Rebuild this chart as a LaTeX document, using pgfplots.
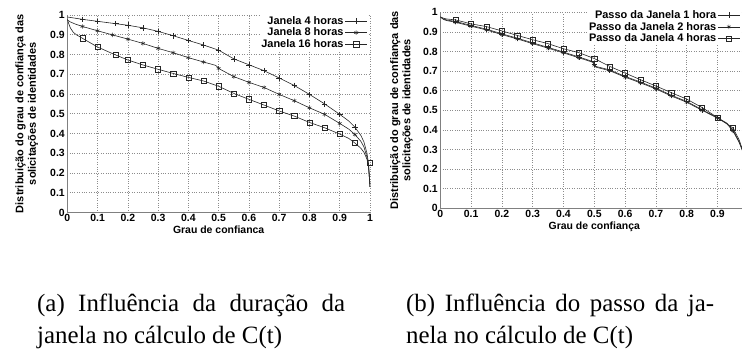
\documentclass[border=0pt]{standalone}
\usepackage{pgfplots}
\pgfplotsset{compat=1.18}
\usepackage{fontspec}
\setmainfont{Liberation Serif}
\setsansfont{Liberation Sans}
\definecolor{gridc}{gray}{0.55}
\definecolor{axc}{gray}{0.5}
\definecolor{linec}{gray}{0.15}
\newcommand{\tickfont}{\fontsize{10.5}{12}\sffamily\bfseries}
\newcommand{\labfont}{\fontsize{11}{12.5}\sffamily\bfseries}
\pgfplotsset{
  myaxis/.style={
    scale only axis,
    anchor=south west,
    ymin=0, ymax=1, xmin=0,
    ytick={0,0.1,...,1.01},
    axis lines=left,
    axis line style={-, draw=axc, line width=1.2bp},
    major tick length=0pt,
    grid=major,
    grid style={dotted, draw=gridc, line width=0.6bp},
    /pgf/number format/assume math mode=true,
    tick label style={font=\tickfont},
    xticklabel style={yshift=1.5bp},
    yticklabel style={xshift=1bp},
    xlabel style={font=\tickfont, yshift=3bp},
    ylabel style={font=\labfont, align=center},
    legend style={font=\labfont, draw=none, fill=white, inner sep=0.5bp,
      nodes={inner sep=1.3bp}, row sep=-0.5bp},
    legend cell align=right,
    legend plot pos=right,
    legend image code/.code={\draw[mark repeat=2,mark phase=2,##1] plot coordinates {(0bp,0bp) (11bp,0bp) (22bp,0bp)};},
    every axis plot/.append style={draw=linec, line width=0.6bp, mark options={solid, line width=0.5bp}},
  },
}
\begin{document}
\begin{tikzpicture}
\useasboundingbox (0,0) rectangle (742bp,349bp);
\clip (0,0) rectangle (742bp,349bp);
% ---------------- left chart
\begin{axis}[myaxis,
  at={(67.3bp,136.5bp)}, width=302.7bp, height=197.5bp, xmax=1,
  xtick={0,0.1,...,1.01},
  xlabel={Grau de confianca},
  ylabel={Distribuição do grau de confiança das\\solicitações de identidades},
  ylabel style={at={(axis description cs:-0.085,0.5)}, anchor=south},
  legend style={at={(axis description cs:0.994,1.003)}, anchor=north east},
]
\addlegendimage{linec, line width=0.6bp, mark=+, mark size=2.8bp}
\addlegendentry{Janela 4 horas}
\addlegendimage{linec, line width=0.6bp, mark=asterisk, mark size=2.2bp}
\addlegendentry{Janela 8 horas}
\addlegendimage{linec, line width=0.6bp, mark=square, mark size=2.6bp}
\addlegendentry{Janela 16 horas}
\addplot[forget plot, no marks] coordinates {
(0,0.99) (0.05,0.978) (0.1,0.968) (0.15,0.958) (0.2,0.948) (0.25,0.935) (0.3,0.917)
(0.35,0.895) (0.4,0.871) (0.45,0.848) (0.5,0.822) (0.55,0.778) (0.6,0.748) (0.65,0.718)
(0.7,0.681) (0.75,0.643) (0.8,0.598) (0.85,0.55) (0.9,0.497) (0.93,0.463) (0.95,0.432)
(0.97,0.39) (0.98,0.357) (0.99,0.30) (0.995,0.25) (1,0.13)};
\addplot[forget plot, only marks, mark=+, mark size=2.8bp] coordinates {
(0.05,0.978) (0.1,0.968) (0.16,0.956) (0.2,0.948) (0.25,0.935) (0.3,0.917)
(0.35,0.895) (0.4,0.871) (0.45,0.848) (0.5,0.822) (0.55,0.778) (0.6,0.748) (0.65,0.718)
(0.7,0.681) (0.75,0.643) (0.8,0.598) (0.85,0.55) (0.9,0.497) (0.95,0.432)};
\addplot[forget plot, no marks] coordinates {
(0,0.975) (0.01,0.965) (0.025,0.955) (0.05,0.942) (0.1,0.92) (0.15,0.899) (0.2,0.878) (0.25,0.856)
(0.3,0.831) (0.35,0.809) (0.4,0.784) (0.45,0.762) (0.49,0.745) (0.505,0.725) (0.55,0.688)
(0.6,0.659) (0.65,0.633) (0.7,0.598) (0.75,0.566) (0.8,0.53) (0.85,0.497) (0.9,0.451)
(0.93,0.422) (0.95,0.395) (0.97,0.36) (0.98,0.332) (0.99,0.28) (0.995,0.24) (1,0.13)};
\addplot[forget plot, only marks, mark=asterisk, mark size=2.2bp] coordinates {
(0.05,0.942) (0.1,0.92) (0.15,0.899) (0.2,0.878) (0.25,0.856)
(0.3,0.831) (0.35,0.809) (0.4,0.784) (0.45,0.762) (0.5,0.73) (0.55,0.688)
(0.6,0.659) (0.65,0.633) (0.7,0.598) (0.75,0.566) (0.8,0.53) (0.85,0.497) (0.9,0.451)
(0.95,0.395)};
\addplot[forget plot, no marks] coordinates {
(0,0.98) (0.005,0.955) (0.01,0.935) (0.02,0.912) (0.03,0.9) (0.05,0.882) (0.1,0.838)
(0.15,0.804) (0.2,0.772) (0.25,0.747) (0.3,0.725) (0.35,0.704) (0.4,0.684) (0.45,0.666)
(0.5,0.639) (0.55,0.603) (0.6,0.573) (0.65,0.544) (0.7,0.514) (0.75,0.488) (0.8,0.456)
(0.85,0.429) (0.9,0.397) (0.93,0.375) (0.95,0.352) (0.97,0.325) (0.98,0.305)
(0.99,0.27) (0.995,0.235) (1,0.13)};
\addplot[forget plot, only marks, mark=square, mark size=2.6bp] coordinates {
(0.05,0.882) (0.1,0.838) (0.16,0.8) (0.2,0.772) (0.25,0.747) (0.3,0.725) (0.35,0.704)
(0.4,0.684) (0.45,0.666) (0.5,0.639) (0.55,0.603) (0.6,0.573) (0.65,0.544) (0.7,0.514)
(0.75,0.488) (0.8,0.456) (0.85,0.429) (0.9,0.397) (0.95,0.352) (1,0.25)};
\end{axis}
% ---------------- right chart
\begin{axis}[myaxis,
  at={(440.3bp,140.7bp)}, width=308bp, height=196bp, xmax=1,
  xtick={0,0.1,...,0.91},
  extra x ticks={1}, extra x tick labels={},
  xlabel={Grau de confiança},
  ylabel={Distribuição do grau de confiança das\\solicitações de identidades},
  ylabel style={at={(axis description cs:-0.078,0.5)}, anchor=south},
  legend style={at={(axis description cs:0.976,1.019)}, anchor=north east},
]
\addlegendimage{linec, line width=0.6bp, mark=+, mark size=2.8bp}
\addlegendentry{Passo da Janela 1 hora}
\addlegendimage{linec, line width=0.6bp, mark=asterisk, mark size=2.2bp}
\addlegendentry{Passo da Janela 2 horas}
\addlegendimage{linec, line width=0.6bp, mark=square, mark size=2.6bp}
\addlegendentry{Passo da Janela 4 horas}
\addplot[forget plot, no marks] coordinates {
(0,0.977) (0.01,0.966) (0.02,0.961) (0.05,0.953) (0.1,0.933) (0.15,0.914) (0.2,0.89)
(0.25,0.868) (0.3,0.844) (0.35,0.821) (0.4,0.797) (0.45,0.772) (0.495,0.749) (0.505,0.724)
(0.55,0.706) (0.6,0.673) (0.65,0.644) (0.7,0.613) (0.75,0.577) (0.8,0.545) (0.85,0.503)
(0.9,0.462) (0.93,0.435) (0.95,0.40) (0.97,0.34) (0.98,0.30) (0.99,0.24) (1,0.12)};
\addplot[forget plot, only marks, mark=+, mark size=2.8bp] coordinates {
(0.05,0.953) (0.1,0.933) (0.15,0.914) (0.2,0.89)
(0.25,0.868) (0.3,0.844) (0.35,0.821) (0.4,0.797) (0.45,0.772) (0.5,0.735)
(0.55,0.706) (0.6,0.673) (0.65,0.644) (0.7,0.613) (0.75,0.577) (0.8,0.545) (0.85,0.503)
(0.9,0.462) (0.95,0.40)};
\addplot[forget plot, no marks] coordinates {
(0,0.976) (0.01,0.964) (0.02,0.958) (0.05,0.949) (0.1,0.929) (0.15,0.91) (0.2,0.886)
(0.25,0.864) (0.3,0.84) (0.35,0.817) (0.4,0.793) (0.45,0.768) (0.495,0.745) (0.505,0.72)
(0.55,0.702) (0.6,0.669) (0.65,0.64) (0.7,0.609) (0.75,0.573) (0.8,0.541) (0.85,0.5)
(0.9,0.46) (0.93,0.432) (0.95,0.395) (0.97,0.337) (0.98,0.298) (0.99,0.24) (1,0.12)};
\addplot[forget plot, only marks, mark=asterisk, mark size=2.2bp] coordinates {
(0.05,0.949) (0.1,0.929) (0.15,0.91) (0.2,0.886)
(0.25,0.864) (0.3,0.84) (0.35,0.817) (0.4,0.793) (0.45,0.768) (0.5,0.73)
(0.55,0.702) (0.6,0.669) (0.65,0.64) (0.7,0.609) (0.75,0.573) (0.8,0.541) (0.85,0.5)
(0.9,0.46) (0.95,0.395)};
\addplot[forget plot, no marks] coordinates {
(0,0.977) (0.01,0.97) (0.02,0.966) (0.05,0.961) (0.1,0.941) (0.15,0.927) (0.2,0.905)
(0.25,0.882) (0.3,0.86) (0.35,0.84) (0.4,0.814) (0.45,0.794) (0.5,0.764) (0.55,0.724)
(0.6,0.69) (0.65,0.656) (0.7,0.624) (0.75,0.59) (0.8,0.557) (0.85,0.514) (0.9,0.463)
(0.95,0.41) (0.97,0.35) (0.98,0.305) (0.99,0.24) (1,0.12)};
\addplot[forget plot, only marks, mark=square, mark size=2.6bp] coordinates {
(0.05,0.961) (0.1,0.941) (0.15,0.927) (0.2,0.905)
(0.25,0.882) (0.3,0.86) (0.35,0.84) (0.4,0.814) (0.45,0.794) (0.5,0.764) (0.55,0.724)
(0.6,0.69) (0.65,0.656) (0.7,0.624) (0.75,0.59) (0.8,0.557) (0.85,0.514) (0.9,0.463)
(0.95,0.41)};
\end{axis}
% ---------------- captions
\node[anchor=base west, inner sep=0pt, font=\fontsize{25}{31}\selectfont] at (37bp,38bp)
  {\makebox[308bp][s]{(a) Influência da duração da}};
\node[anchor=base west, inner sep=0pt, font=\fontsize{25}{31}\selectfont] at (37bp,6bp)
  {janela no cálculo de C(t)};
\node[anchor=base west, inner sep=0pt, font=\fontsize{25}{31}\selectfont] at (406bp,38bp)
  {\makebox[308bp][s]{(b) Influência do passo da ja-}};
\node[anchor=base west, inner sep=0pt, font=\fontsize{25}{31}\selectfont] at (406bp,6bp)
  {nela no cálculo de C(t)};
\end{tikzpicture}
\end{document}
